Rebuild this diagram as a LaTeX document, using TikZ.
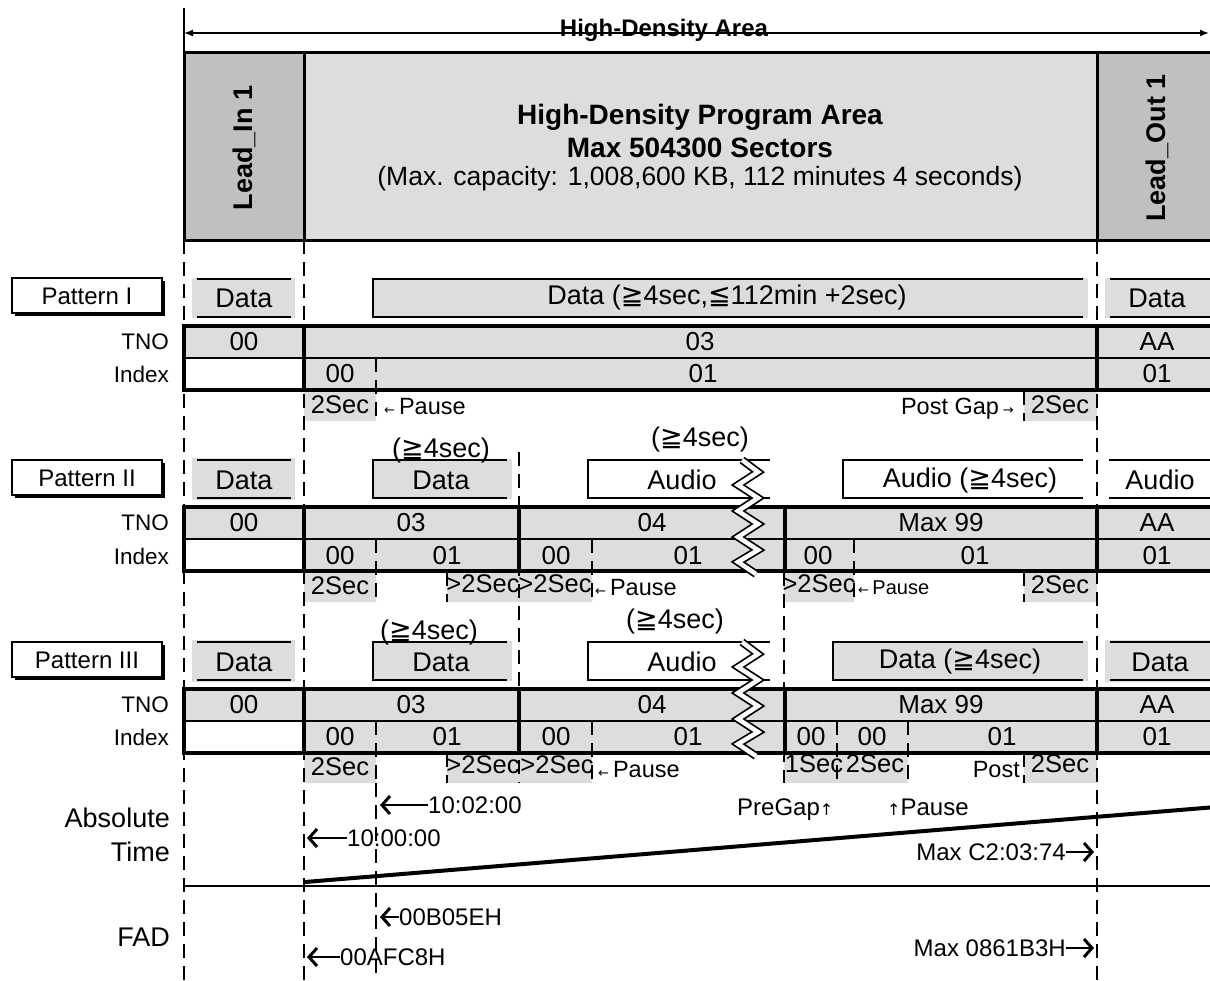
\documentclass[tikz,border=0pt]{standalone}
\usepackage{fontspec}
\setmainfont{Liberation Sans}
\newfontfamily\sym{DejaVu Sans}
\usetikzlibrary{arrows.meta}
\newcommand\fs[1]{\fontsize{#1}{#1}\selectfont}
\newcommand\GE{{\sym ≧}}
\newcommand\LE{{\sym ≦}}
\newcommand\LA{{\sym\fs{13}←}}
\newcommand\RA{{\sym\fs{13}→}}
\newcommand\UA{{\sym\fs{16}↑}}
\definecolor{lg}{HTML}{DDDDDD}
\definecolor{dg}{HTML}{C0C0C0}
\newcommand\tframe[1]{%
  \fill[lg] (184,#1) rectangle (1216,{#1+32});
  \fill[lg] (304,{#1+32}) rectangle (1216,{#1+64});
  \draw[tn] (184,{#1+32}) -- (1216,{#1+32});
  \draw[tk] (184,#1) rectangle (1216,{#1+64});
  \draw[tk] (304,#1) -- (304,{#1+64});
  \draw[tk] (1097,#1) -- (1097,{#1+64});
}
\newcommand\patbox[3]{%
  \fill (15,{#2-16}) rectangle (165,{#2+19});
  \filldraw[fill=white,line width=1.2pt] (12,{#2-19}) rectangle (162,{#2+16});
  \node[font=\fs{24},inner sep=0pt] (#1) at (87,{#2-1}) {#3};
}
% chevron pointing left / right with its tip at a named coordinate
\newcommand\chevL[1]{\draw[line width=3pt, line join=miter] ([shift={(8,-9)}]#1) -- (#1) -- ([shift={(8,9)}]#1);}
\newcommand\chevR[1]{\draw[line width=3pt, line join=miter] ([shift={(-8,-9)}]#1) -- (#1) -- ([shift={(-8,9)}]#1);}
\begin{document}
\begin{tikzpicture}[x=1pt,y=-1pt,
  dl/.style={line width=1.4pt, dash pattern=on 14pt off 8pt},
  tk/.style={line width=3.5pt},
  tn/.style={line width=2pt},
  bl/.style={line width=1.6pt},
  t/.style={inner sep=0pt, font=\fs{26}},
  bx/.style={inner sep=0pt, font=\fs{27}},
  sm/.style={inner sep=0pt, font=\fs{25.5}},
  ps/.style={inner sep=0pt, font=\fs{23.5}},
  lab/.style={inner sep=0pt, font=\fs{22.5}, anchor=east},
  bt/.style={inner sep=0pt, font=\fs{24}},
  dsh/.style={line width=1.6pt}]
\useasboundingbox (0,0) rectangle (1210,980);

% ---------- header ----------
\coordinate (al) at (184,33);
\coordinate (ar) at (1209,33);
\draw[line width=1.4pt] (184,8) -- (184,52);
\draw[line width=1.4pt, {Latex[length=9pt,width=7pt]}-{Latex[length=9pt,width=7pt]}] (al) -- (ar);
\node[inner sep=0pt, font=\bfseries\fs{24}] (hda) at (664,30) {High-Density Area};
\fill[dg] (184,52) rectangle (304,240);
\fill[lg] (304,52) rectangle (1097,240);
\fill[dg] (1097,52) rectangle (1216,240);
\draw[line width=3pt] (184,52) rectangle (1216,240);
\draw[line width=3pt] (304,52) -- (304,240) (1097,52) -- (1097,240);
\node[rotate=90, inner sep=0pt, font=\bfseries\fs{27}] (li) at (244,148) {Lead\_In 1};
\node[rotate=90, inner sep=0pt, font=\bfseries\fs{27}] (lo) at (1157,148) {Lead\_Out 1};
\node[inner sep=0pt, font=\bfseries\fs{28}] (hp1) at (700,117) {High-Density Program Area};
\node[inner sep=0pt, font=\bfseries\fs{28}] (hp2) at (700,148) {Max 504300 Sectors};
\node[inner sep=0pt, font=\fs{26.5}] (hp3) at (700,179) {(Max. capacity: 1,008,600 KB, 112 minutes 4 seconds)};

% ---------- gray cells below tables ----------
\fill[lg] (304,391) rectangle (376,421) (1024,391) rectangle (1097,421);
\fill[lg] (304,572) rectangle (376,602) (447,572) rectangle (592,602)
          (784,572) rectangle (854,602) (1024,572) rectangle (1097,602);
\fill[lg] (304,753) rectangle (376,783) (447,753) rectangle (592,783)
          (784,753) rectangle (908,783) (1024,753) rectangle (1097,783);

% ---------- long dashed lines ----------
\draw[dl] (184,240) -- (184,980);
\draw[dl] (304,240) -- (304,980);
\draw[dl] (1097,240) -- (1097,980);
\draw[dl] (519,452) -- (519,783);
\draw[dl] (784,572) -- (784,783);
\draw[dl] (376,783) -- (376,980);

% ---------- pattern I ----------
\patbox{p1}{297}{Pattern I}
\fill[lg] (192,278) rectangle (295,318);
\draw[bl] (197,279) -- (291,279) (197,317) -- (291,317);
\fill[lg] (373,278) rectangle (1088,318);
\draw[bl] (1083,279) -- (373,279) -- (373,317) -- (1083,317);
\fill[lg] (1105,278) rectangle (1216,318);
\draw[bl] (1110,279) -- (1216,279) (1110,317) -- (1216,317);
\tframe{326}

% ---------- pattern II ----------
\patbox{p2}{479}{Pattern II}
\fill[lg] (192,458) rectangle (295,500);
\draw[bl] (197,460) -- (291,460) (197,498) -- (291,498);
\fill[lg] (373,459) rectangle (512,499);
\draw[bl] (507,460) -- (373,460) -- (373,498) -- (507,498);
\draw[bl] (770,460) -- (588,460) -- (588,498) -- (770,498);
\draw[bl] (1083,460) -- (843,460) -- (843,498) -- (1083,498);
\draw[bl] (1109,460) -- (1216,460) (1109,498) -- (1216,498);
\tframe{507}
\draw[tk] (519,507) -- (519,571) (785,507) -- (785,571);

% ---------- pattern III ----------
\patbox{p3}{661}{Pattern III}
\fill[lg] (192,640) rectangle (295,682);
\draw[bl] (197,642) -- (291,642) (197,680) -- (291,680);
\fill[lg] (373,641) rectangle (512,681);
\draw[bl] (507,642) -- (373,642) -- (373,680) -- (507,680);
\draw[bl] (770,642) -- (588,642) -- (588,680) -- (770,680);
\fill[lg] (833,641) rectangle (1088,681);
\draw[bl] (1083,642) -- (833,642) -- (833,680) -- (1083,680);
\fill[lg] (1105,640) rectangle (1216,682);
\draw[bl] (1110,642) -- (1216,642) (1110,680) -- (1216,680);
\tframe{689}
\draw[tk] (519,689) -- (519,753) (785,689) -- (785,753);

% ---------- short dashed dividers ----------
\draw[dl] (376,358) -- (376,421);
\draw[dl] (1024,391) -- (1024,421);
\draw[dl] (376,539) -- (376,602);
\draw[dl] (447,572) -- (447,602);
\draw[dl] (592,539) -- (592,602);
\draw[dl] (854,539) -- (854,602);
\draw[dl] (1024,572) -- (1024,602);
\draw[dl] (376,721) -- (376,783);
\draw[dl] (447,753) -- (447,783);
\draw[dl] (592,721) -- (592,783);
\draw[dl] (837,721) -- (837,783);
\draw[dl] (908,721) -- (908,783);
\draw[dl] (1024,753) -- (1024,783);

% ---------- zigzags ----------
\foreach \zy in {460,642} {
  \draw[line width=8pt, line join=miter] (742,\zy) -- ++(16,12) -- ++(-20,13) -- ++(20,13) -- ++(-20,13) -- ++(20,13) -- ++(-20,13) -- ++(20,13) -- ++(-20,12) -- ++(18,12);
  \draw[white, line width=4.5pt, line join=miter] (742,\zy) -- ++(16,12) -- ++(-20,13) -- ++(20,13) -- ++(-20,13) -- ++(20,13) -- ++(-20,13) -- ++(20,13) -- ++(-20,12) -- ++(18,12);
}

% ---------- pattern I texts ----------
\node[bx] (d1a) at (244,298) {Data};
\node[bx] (d1b) at (727,298) {Data (\GE4sec,\LE112min +2sec)};
\node[bx] (d1c) at (1157,298) {Data};
\node[lab] (tno1) at (169,342) {TNO};
\node[lab] (idx1) at (169,374) {Index};
\node[t] (t1a) at (244,342) {00};
\node[t] (t1b) at (700,342) {03};
\node[t] (t1c) at (1157,342) {AA};
\node[t] (i1a) at (340,374) {00};
\node[t] (i1b) at (703,374) {01};
\node[t] (i1c) at (1157,374) {01};
\node[sm] (s1a) at (340,405) {2Sec};
\node[ps, anchor=base west] (s1b) at (384,414) {\LA\,Pause};
\node[ps, anchor=base east] (s1c) at (1014,414) {Post Gap\,\RA};
\node[sm] (s1d) at (1060,405) {2Sec};

% ---------- pattern II texts ----------
\node[bx] (d2a) at (244,480) {Data};
\node[bx] (d2b) at (441,451) {(\GE4sec)};
\node[bx] (d2c) at (441,480) {Data};
\node[bx] (d2d) at (700,440) {(\GE4sec)};
\node[bx] (d2e) at (682,480) {Audio};
\node[bx] (d2f) at (970,481) {Audio (\GE4sec)};
\node[bx] (d2g) at (1160,480) {Audio};
\node[lab] (tno2) at (169,523) {TNO};
\node[lab] (idx2) at (169,556) {Index};
\node[t] (t2a) at (244,523) {00};
\node[t] (t2b) at (411,523) {03};
\node[t] (t2c) at (652,523) {04};
\node[t] (t2d) at (941,523) {Max 99};
\node[t] (t2e) at (1157,523) {AA};
\node[t] (i2a) at (340,556) {00};
\node[t] (i2b) at (447,556) {01};
\node[t] (i2c) at (556,556) {00};
\node[t] (i2d) at (688,556) {01};
\node[t] (i2e) at (818,556) {00};
\node[t] (i2f) at (975,556) {01};
\node[t] (i2g) at (1157,556) {01};
\node[sm] (s2a) at (340,586) {2Sec};
\node[sm] (s2b) at (483,584) {>2Sec};
\node[sm] (s2c) at (555,584) {>2Sec};
\node[ps, anchor=base west] (s2d) at (595,595) {\LA\,Pause};
\node[sm] (s2e) at (819,584) {>2Sec};
\node[ps, anchor=base west, font=\fs{20}] (s2f) at (858,594) {\LA\,Pause};
\node[sm] (s2g) at (1060,585) {2Sec};

% ---------- pattern III texts ----------
\node[bx] (d3a) at (244,662) {Data};
\node[bx] (d3b) at (429,633) {(\GE4sec)};
\node[bx] (d3c) at (441,662) {Data};
\node[bx] (d3d) at (675,622) {(\GE4sec)};
\node[bx] (d3e) at (682,662) {Audio};
\node[bx] (d3f) at (960,662) {Data (\GE4sec)};
\node[bx] (d3g) at (1160,662) {Data};
\node[lab] (tno3) at (169,705) {TNO};
\node[lab] (idx3) at (169,737) {Index};
\node[t] (t3a) at (244,705) {00};
\node[t] (t3b) at (411,705) {03};
\node[t] (t3c) at (652,705) {04};
\node[t] (t3d) at (941,705) {Max 99};
\node[t] (t3e) at (1157,705) {AA};
\node[t] (i3a) at (340,737) {00};
\node[t] (i3b) at (447,737) {01};
\node[t] (i3c) at (556,737) {00};
\node[t] (i3d) at (688,737) {01};
\node[t] (i3e) at (811,737) {00};
\node[t] (i3f) at (872,737) {00};
\node[t] (i3g) at (1002,737) {01};
\node[t] (i3h) at (1157,737) {01};
\node[sm] (s3a) at (340,767) {2Sec};
\node[sm] (s3b) at (483,765) {>2Sec};
\node[sm] (s3c) at (557,765) {>2Sec};
\node[ps, anchor=base west] (s3d) at (598,777) {\LA\,Pause};
\node[sm] (s3e) at (814,764) {1Sec};
\node[sm] (s3f) at (875,764) {2Sec};
\node[ps, anchor=base east] (s3g) at (1020,777) {Post};
\node[sm] (s3h) at (1060,764) {2Sec};

% ---------- absolute time / FAD ----------
\coordinate (d0) at (305,882);
\coordinate (d1) at (1216,807);
\draw[line width=2.5pt] (184,886) -- (1216,886);
\draw[line width=4pt] (d0) -- (d1);
\node[inner sep=0pt, font=\fs{27}, anchor=east] (abs) at (170,818) {Absolute};
\node[inner sep=0pt, font=\fs{27}, anchor=east] (tim) at (170,852) {Time};
\node[inner sep=0pt, font=\fs{27}, anchor=east] (fad) at (170,937) {FAD};

\node[bt, anchor=west] (a1) at (428,805) {10:02:00};
\coordinate (c1) at (382,805);
\draw[dsh] (a1.west) -- (c1); \chevL{c1}
\node[bt, anchor=west] (a2) at (347,838) {10:00:00};
\coordinate (c2) at (309,838);
\draw[dsh] (a2.west) -- (c2); \chevL{c2}
\node[bt, anchor=base west] (pg) at (737,815) {PreGap\UA};
\node[bt, anchor=base west] (pp) at (887,815) {\UA Pause};
\node[bt, anchor=east] (mx) at (1066,852) {Max C2:03:74};
\coordinate (c3) at (1092,852);
\draw[dsh] (mx.east) -- (c3); \chevR{c3}
\node[bt, anchor=west] (f1) at (399,917) {00B05EH};
\coordinate (c4) at (382,917);
\draw[dsh] (f1.west) -- (c4); \chevL{c4}
\node[bt, anchor=west] (f2) at (340,957) {00AFC8H};
\coordinate (c5) at (309,957);
\draw[dsh] (f2.west) -- (c5); \chevL{c5}
\node[bt, anchor=east] (mf) at (1066,948) {Max 0861B3H};
\coordinate (c6) at (1092,948);
\draw[dsh] (mf.east) -- (c6); \chevR{c6}
\end{tikzpicture}
\end{document}
